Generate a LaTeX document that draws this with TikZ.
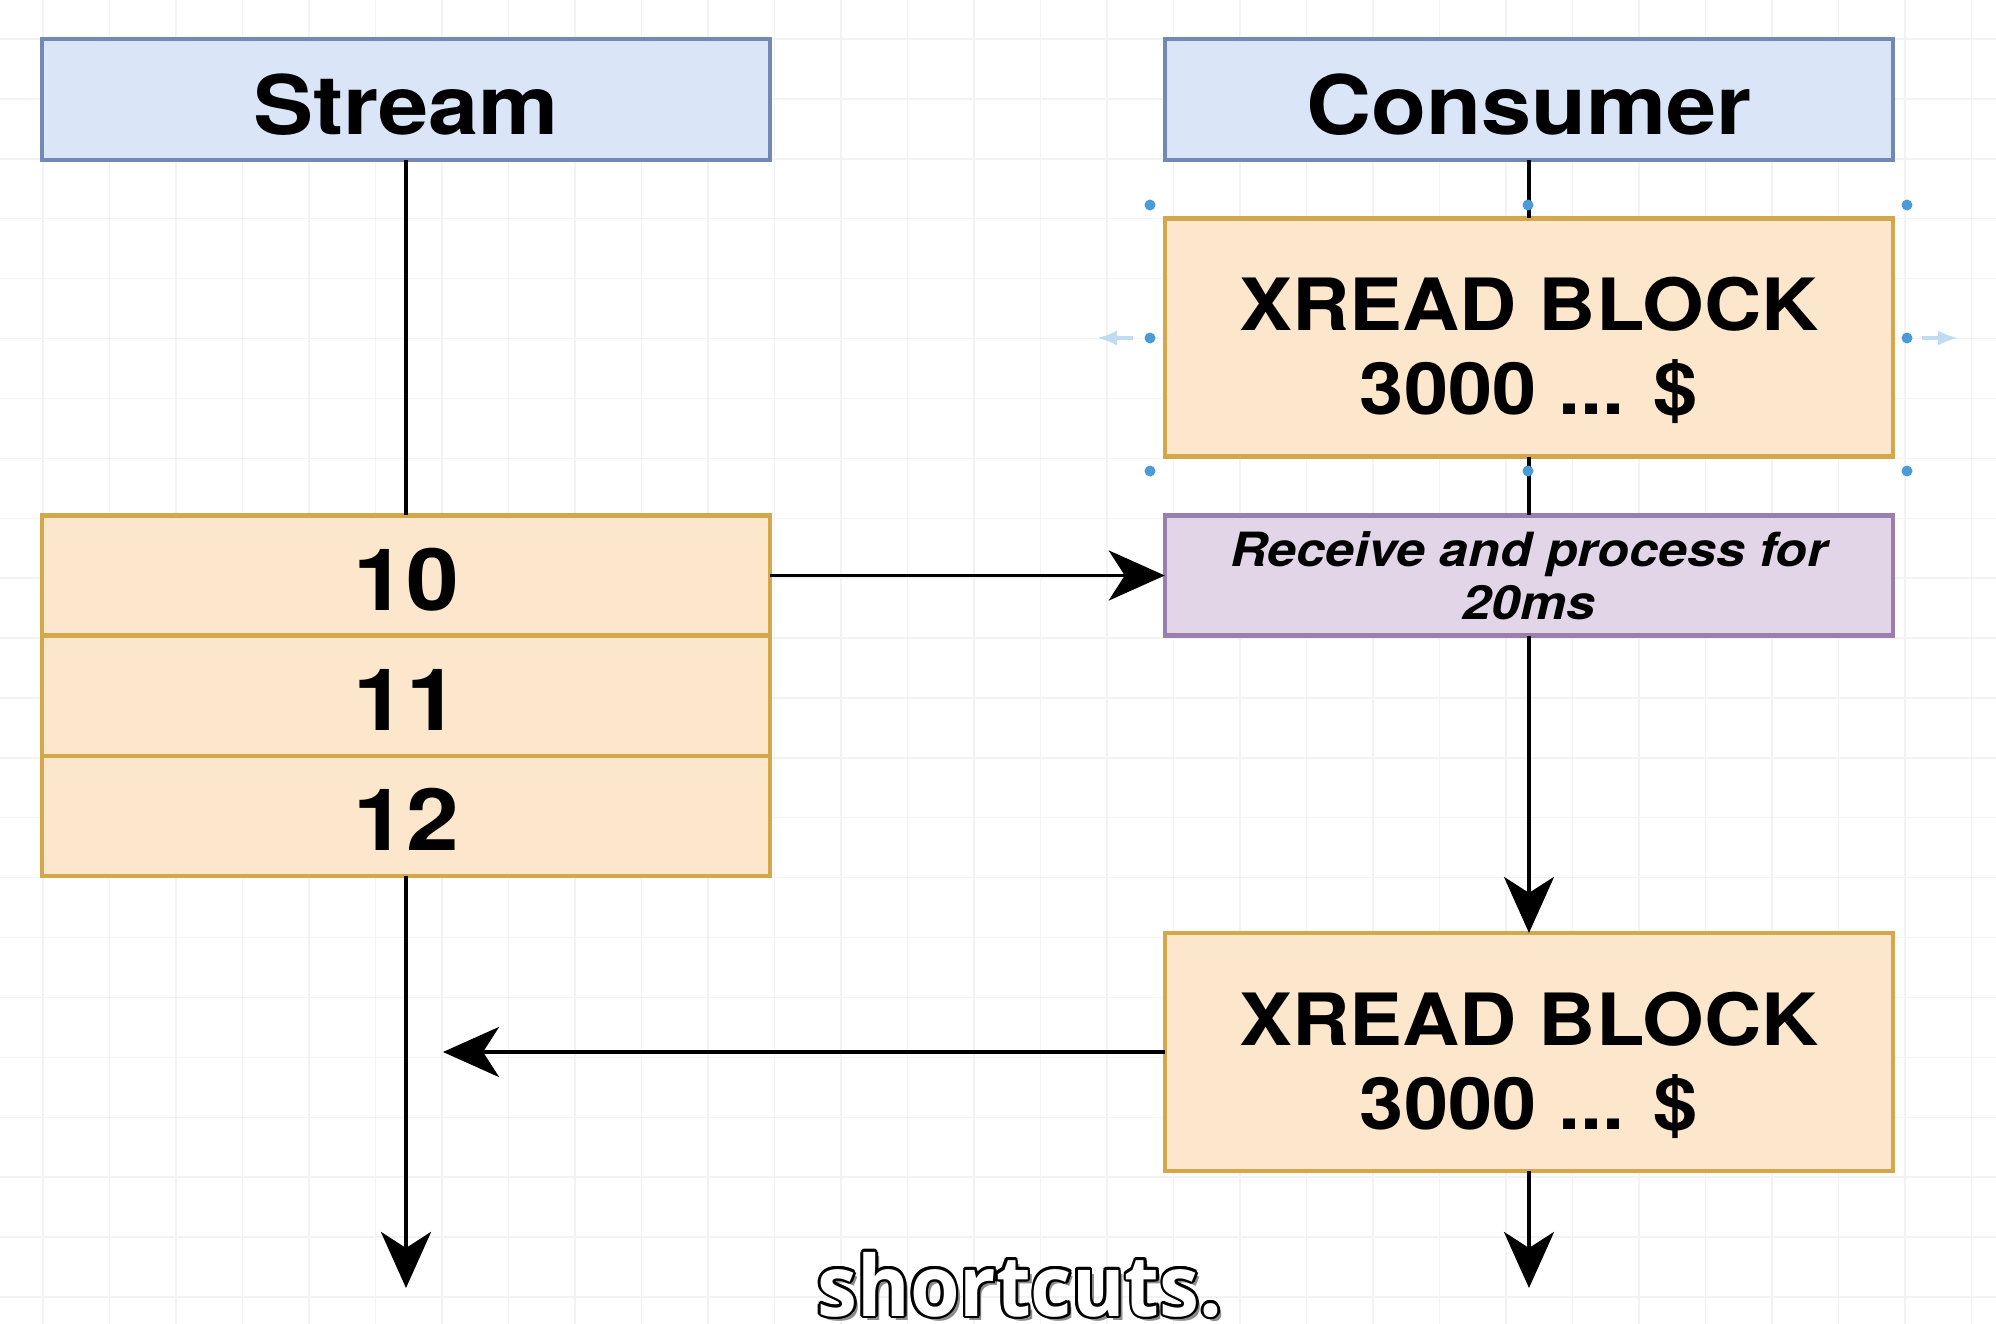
\documentclass[tikz,border=0pt]{standalone}
\usepackage{fontspec}
\setmainfont{TeX Gyre Heros}[FakeStretch=1.1]
\newfontfamily\subfont{Open Sans}[FakeStretch=0.95]
\usetikzlibrary{
    arrows.meta,
    positioning
}
\definecolor{hdrfill}{HTML}{DAE6F8}
\definecolor{hdrline}{HTML}{7389B5}
\definecolor{itemfill}{HTML}{FCE6CC}
\definecolor{itemline}{HTML}{D4A84A}
\definecolor{procfill}{HTML}{E1D5E7}
\definecolor{procline}{HTML}{9A7EAE}
\definecolor{gridline}{HTML}{F3F3F3}
\definecolor{handle}{HTML}{4A9BD8}
\tikzset{
    box/.style={line width=1.2pt, minimum width=7.28cm, outer sep=0pt, align=center},
    header/.style={box, draw=hdrline, fill=hdrfill, minimum height=1.21cm,
        text height=20pt, text depth=0pt,
        font=\bfseries\fontsize{23.3}{27}\selectfont},
    entry/.style={box, draw=itemline, fill=itemfill, minimum height=1.2cm,
        text height=20pt, text depth=0pt,
        font=\bfseries\fontsize{24.5}{28}\selectfont},
    command/.style={box, draw=itemline, fill=itemfill, minimum height=2.38cm},
    cmdtext/.style={align=center, inner sep=0pt,
        font=\bfseries\fontsize{20.5}{23.8}\selectfont},
    process/.style={box, draw=procline, fill=procfill, minimum height=1.2cm,
        font=\bfseries\itshape\fontsize{13.4}{15}\selectfont},
    flow/.style={line width=1.1pt, black},
    flowarrow/.style={flow, -{Stealth[length=5.6mm, width=5mm, inset=1.6mm]}},
    hint/.style={line width=1pt, handle!35, -{Latex[length=2mm]}},
    subtitle/.style={anchor=base, font=\subfont\bfseries\fontsize{24}{28}\selectfont}
}

\begin{document}
\begin{tikzpicture}[x=0.01cm, y=-0.01cm]
    \useasboundingbox (0,0) rectangle (1996,1324);
    \fill[white] (0,0) rectangle (1996,1324);
    % background grid
    \foreach \k in {0,...,29}
        \draw[gridline] ({43+66.5*\k},0) -- ({43+66.5*\k},1324);
    \foreach \k in {0,...,21}
        \draw[gridline] (0,{39+59.9*\k}) -- (1996,{39+59.9*\k});

    \node[header] (stream) at (406,99.5) {Stream};
    \node[header] (consumer) at (1529,99.5) {Consumer};

    \node[entry] (e10) at (406,575.5) {10};
    \node[entry, below=0pt of e10] (e11) {11};
    \node[entry, below=0pt of e11] (e12) {12};

    \node[command] (xreadA) at (1529,337.5) {};
    \node[cmdtext] (xreadAtext) at ([yshift=-0.13cm]xreadA) {XREAD BLOCK\\3000 ... \$};
    \node[process] (recv) at (1529,575.5) {Receive and process for\\20ms};
    \node[command] (xreadB) at (1529,1052) {};
    \node[cmdtext] (xreadBtext) at ([yshift=-0.13cm]xreadB) {XREAD BLOCK\\3000 ... \$};

    \coordinate (streamEnd) at (406,1288);
    \coordinate (consumerEnd) at (1529,1288);
    \coordinate (reply) at (443,1052);

    \draw[flow] (stream) -- (e10);
    \draw[flowarrow] (e12) -- (streamEnd);
    \draw[flow] (consumer) -- (xreadA);
    \draw[flow] (xreadA) -- (recv);
    \draw[flowarrow] (recv) -- (xreadB);
    \draw[flowarrow] (xreadB) -- (consumerEnd);
    \draw[flowarrow] (e10) -- (recv);
    \draw[flowarrow] (xreadB) -- (reply);

    % selection handles
    \foreach \x/\y in {1150/205, 1528/205, 1907/205, 1150/338, 1907/338,
                       1150/471, 1528/471, 1907/471}
        \fill[handle] (\x,\y) circle (5.5);
    \draw[hint] (1133,338) -- (1097,338);
    \draw[hint] (1922,338) -- (1958,338);

    % caption
    \node[subtitle, text=black!45, shift={(4,4)}] at (1020,1316) {shortcuts.};
    \foreach \a in {0,30,...,330}
        \node[subtitle, text=black, shift={(\a:2.6)}] at (1020,1316) {shortcuts.};
    \node[subtitle, text=white] (caption) at (1020,1316) {shortcuts.};
\end{tikzpicture}
\end{document}
